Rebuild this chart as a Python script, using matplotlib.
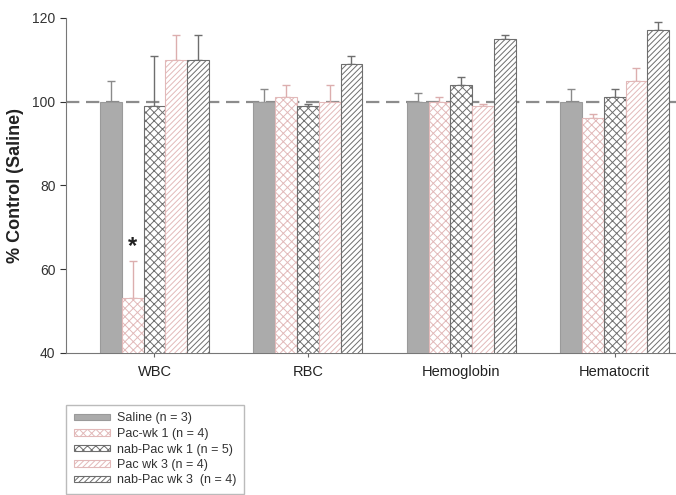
import matplotlib
matplotlib.use("Agg")
import matplotlib.pyplot as plt
import numpy as np

plt.rcParams['font.family'] = ['Liberation Sans', 'DejaVu Sans']
plt.rcParams['hatch.linewidth'] = 0.7

categories = ["WBC", "RBC", "Hemoglobin", "Hematocrit"]
series_names = ["Saline (n = 3)", "Pac-wk 1 (n = 4)", "nab-Pac wk 1 (n = 5)",
                "Pac wk 3 (n = 4)", "nab-Pac wk 3  (n = 4)"]
saline = [100, 100, 100, 100]
pac_wk1 = [53, 101, 100, 96]
nab_wk1 = [99, 99, 104, 101]
pac_wk3 = [110, 100, 99, 105]
nab_wk3 = [110, 109, 115, 117]
saline_err = [5, 3, 2, 3]
pac_wk1_err = [9, 3, 1, 1]
nab_wk1_err = [12, 0.5, 2, 2]
pac_wk3_err = [6, 4, 0.5, 3]
nab_wk3_err = [6, 2, 1, 2]

values = [saline, pac_wk1, nab_wk1, pac_wk3, nab_wk3]
errors = [saline_err, pac_wk1_err, nab_wk1_err, pac_wk3_err, nab_wk3_err]

pink = "#e2b9b9"
dark = "#6e6e6e"
styles = [
    dict(facecolor="#ababab", edgecolor="#9a9a9a", hatch=None),
    dict(facecolor="white", edgecolor=pink, hatch="xxxx"),
    dict(facecolor="white", edgecolor=dark, hatch="xxxx"),
    dict(facecolor="white", edgecolor=pink, hatch="//////"),
    dict(facecolor="white", edgecolor=dark, hatch="//////"),
]
err_colors = ["#8a8a8a", "#dcaeae", "#6e6e6e", "#dcaeae", "#6e6e6e"]

fig = plt.figure(figsize=(6.76, 4.95), dpi=100)
ax = fig.add_axes([0.0976, 0.287, 0.9024, 0.6768])

x = np.arange(len(categories))
w = 0.142
handles = []
for i, (vals, errs, st) in enumerate(zip(values, errors, styles)):
    pos = x + (i - 2) * w
    b = ax.bar(pos, vals, width=w, bottom=0, linewidth=0.8, zorder=3,
               label=series_names[i], **st)
    handles.append(b)
    ax.errorbar(pos, vals, yerr=[np.zeros(len(errs)), errs], fmt="none",
                ecolor=err_colors[i], elinewidth=1.0, capsize=3, capthick=1.0,
                zorder=2)

ax.axhline(100, color="#8c8c8c", lw=1.6, dashes=(6, 3), zorder=1)

ax.text(x[0] - w, 65.5, "*", ha="center", va="center", fontsize=17,
        fontweight="bold", color="#222222")

ax.set_ylim(40, 120)
ax.set_xlim(-0.577, 3.40)
ax.set_yticks([40, 60, 80, 100, 120])
ax.set_xticks(x)
ax.set_xticklabels(categories, fontsize=10.5, color="#222222")
ax.tick_params(axis="y", labelsize=10, colors="#333333", length=4, width=0.8)
ax.tick_params(axis="x", length=3, width=0.8, colors="#666666", pad=6)
for lab in ax.get_xticklabels():
    lab.set_color("#222222")
for lab in ax.get_yticklabels():
    lab.set_color("#333333")
ax.spines["top"].set_visible(False)
ax.spines["right"].set_visible(False)
ax.spines["left"].set_color("#777777")
ax.spines["bottom"].set_color("#777777")
ax.set_ylabel("% Control (Saline)", fontsize=13, fontweight="bold",
              color="#222222", labelpad=6)

leg = fig.legend(handles=handles, loc="upper left",
                 bbox_to_anchor=(66 / 676, 1 - 405 / 495),
                 fontsize=9, frameon=True, fancybox=False,
                 handlelength=2.9, handleheight=0.45, handletextpad=0.6,
                 labelspacing=0.28, borderpad=0.6, borderaxespad=0)
leg.get_frame().set_edgecolor("#aaaaaa")
leg.get_frame().set_linewidth(1.0)
for t in leg.get_texts():
    t.set_color("#333333")

fig.savefig("out.png", dpi=100)
